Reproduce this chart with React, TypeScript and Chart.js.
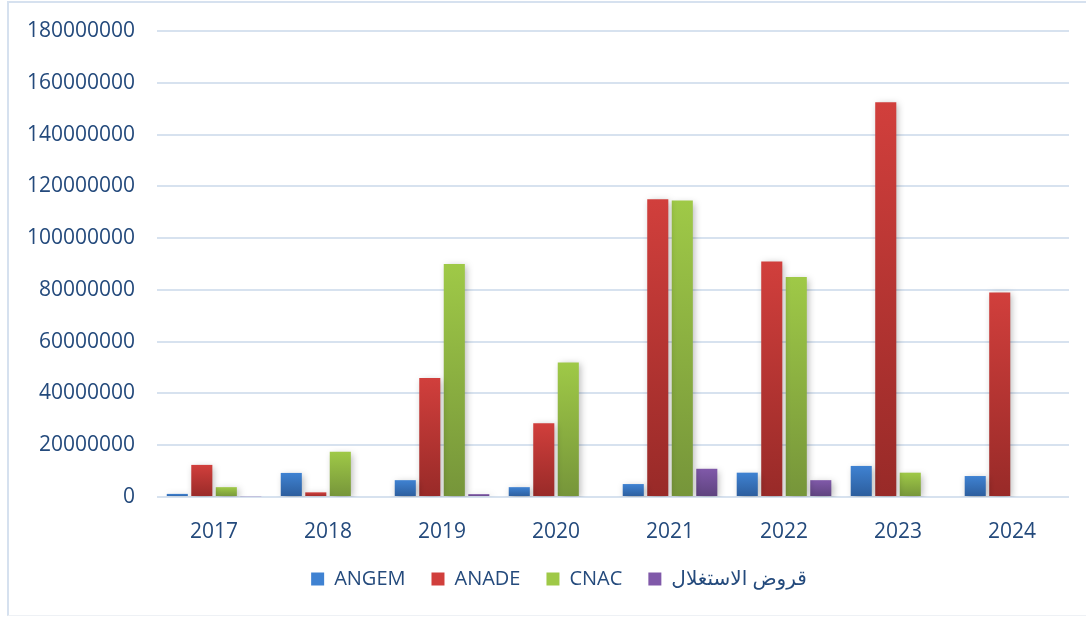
import React, { useEffect, useRef } from "react";
import { Chart, registerables } from "chart.js";

Chart.register(...registerables);

const categories = ["2017", "2018", "2019", "2020", "2021", "2022", "2023", "2024"];
const angem = [1200000, 9300000, 6500000, 3800000, 5000000, 9400000, 12000000, 8100000];
const anade = [12400000, 1800000, 46000000, 28500000, 115000000, 91000000, 152500000, 79000000];
const cnac = [3800000, 17500000, 90000000, 52000000, 114500000, 85000000, 9400000, 0];
const qurud = [300000, 0, 1100000, 0, 10900000, 6500000, 0, 0];
const seriesNames = ["ANGEM", "ANADE", "CNAC", "قروض الاستغلال"];
const yTicksMax = 180000000;
const yStep = 20000000;

const palette = [
  ["#3F82D2", "#2C5D9C"],
  ["#D13F3C", "#982A28"],
  ["#9FC947", "#76953A"],
  ["#8059A9", "#5E437E"],
];

const FONT = "'Open Sans', 'Liberation Sans', 'DejaVu Sans', sans-serif";

function gradientFor(idx: number) {
  return (context: any) => {
    const chart = context.chart;
    const [top, bottom] = palette[idx];
    if (context.type === "dataset" || context.parsed === undefined || !chart.scales || !chart.scales.y) {
      return top;
    }
    const y = chart.scales.y;
    const yTop = y.getPixelForValue(context.parsed.y);
    const yBot = y.getPixelForValue(0);
    if (!isFinite(yTop) || !isFinite(yBot) || Math.abs(yBot - yTop) < 1) return top;
    const g = chart.ctx.createLinearGradient(0, yTop, 0, yBot);
    g.addColorStop(0, top);
    g.addColorStop(1, bottom);
    return g;
  };
}

const shadowPlugin = {
  id: "barShadow",
  beforeDatasetsDraw(chart: any) {
    const ctx = chart.ctx;
    ctx.save();
    ctx.shadowColor = "rgba(0,0,0,0.28)";
    ctx.shadowBlur = 7;
    ctx.shadowOffsetX = 2;
    ctx.shadowOffsetY = 2;
  },
  afterDatasetsDraw(chart: any) {
    chart.ctx.restore();
  },
};

const legendShiftPlugin = {
  id: "legendShift",
  afterLayout(chart: any) {
    const l = chart.legend;
    if (l) {
      l.left += 22;
      l.right += 22;
    }
  },
};

export default function App() {
  const ref = useRef<HTMLCanvasElement>(null);
  useEffect(() => {
    if (!ref.current) return;
    const data = [angem, anade, cnac, qurud];
    const chart = new Chart(ref.current, {
      type: "bar",
      data: {
        labels: categories,
        datasets: data.map((d, i) => ({
          label: seriesNames[i],
          data: d,
          backgroundColor: gradientFor(i),
          borderWidth: 0,
          categoryPercentage: 0.86,
          barPercentage: 0.86,
        })),
      },
      options: {
        animation: false,
        responsive: false,
        maintainAspectRatio: false,
        layout: { padding: { left: 5, right: 17, top: 31, bottom: 19 } },
        scales: {
          x: {
            grid: { display: false },
            border: { display: false },
            ticks: {
              color: "#244A7C",
              font: { family: FONT, size: 21 },
              padding: 14,
            },
            afterFit: (scale: any) => {
              scale.height = 46;
            },
          },
          y: {
            min: 0,
            max: yTicksMax,
            ticks: {
              stepSize: yStep,
              color: "#244A7C",
              font: { family: FONT, size: 21 },
              padding: 22,
              callback: (v: any) => String(v),
            },
            grid: { color: "#D7E2EF", lineWidth: 2, drawTicks: false },
            border: { display: false },
            afterFit: (scale: any) => {
              scale.paddingTop = 0;
            },
          },
        },
        plugins: {
          legend: {
            position: "bottom",
            labels: {
              color: "#244A7C",
              font: { family: FONT, size: 20 },
              boxWidth: 13,
              boxHeight: 13,
              padding: 26,
              generateLabels: (c: any) =>
                c.data.datasets.map((ds: any, i: number) => ({
                  text: ds.label,
                  fillStyle: palette[i][0],
                  strokeStyle: palette[i][0],
                  lineWidth: 0,
                  hidden: false,
                  datasetIndex: i,
                  fontColor: "#244A7C",
                })),
            },
          },
          tooltip: { enabled: false },
        },
      },
      plugins: [shadowPlugin, legendShiftPlugin],
    });
    return () => chart.destroy();
  }, []);

  return (
    <div style={{ position: "absolute", left: 0, top: 0, width: 1086, height: 618, background: "#fff" }}>
      <div
        style={{
          position: "absolute",
          left: 7,
          top: 1,
          width: 1090,
          height: 615,
          borderLeft: "2px solid #D6E1EF",
          borderTop: "2px solid #D6E1EF",
          borderBottom: "1px solid #EEF1F5",
          boxSizing: "border-box",
        }}
      />
      <canvas ref={ref} width={1086} height={618} style={{ position: "absolute", left: 0, top: 0 }} />
    </div>
  );
}
